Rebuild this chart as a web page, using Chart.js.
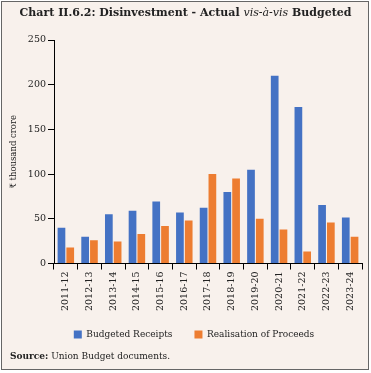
<!DOCTYPE html>
<html>
<head>
<meta charset="utf-8">
<script src="https://cdn.jsdelivr.net/npm/chart.js@4"></script>
<style>
body { margin: 0; background: #fff; }
#box { position: absolute; left: 1px; top: 1px; width: 366px; height: 367px; border: 1px solid #666; background: #f8f1ec; }
#title { position: absolute; left: 0; top: 6px; width: 371px; text-align: center; font-family: "DejaVu Serif", serif; font-weight: bold; font-size: 11px; color: #222; white-space: nowrap; }
#title i { font-weight: normal; }
#source { position: absolute; left: 10px; top: 351px; font-family: "DejaVu Serif", serif; font-size: 9px; color: #222; }
canvas { position: absolute; left: 0; top: 0; }
</style>
</head>
<body>
<div id="box"></div>
<canvas id="barChart" width="371" height="373"></canvas>
<div id="title">Chart II.6.2: Disinvestment - Actual <i>vis-à-vis</i> Budgeted</div>
<div id="source"><b>Source:</b> Union Budget documents.</div>
<script>
var years = ['2011-12', '2012-13', '2013-14', '2014-15', '2015-16', '2016-17', '2017-18', '2018-19', '2019-20', '2020-21', '2021-22', '2022-23', '2023-24'];
var budgeted = [40, 30, 55, 59, 69.5, 57, 62.5, 80, 105, 210, 175, 65.5, 51.5];
var realised = [18, 26, 24.5, 33, 42, 48, 100, 95, 50, 38, 13.5, 46, 30];
var yTicks = [0, 50, 100, 150, 200, 250];

var tickFont = { family: 'DejaVu Serif', size: 9.5 };

// nudge the legend to where it sits in the original
var legendShift = {
    id: 'legendShift',
    afterLayout: function(chart) {
        var lg = chart.legend;
        lg.left += 11; lg.right += 11;
        lg.top -= 5; lg.bottom -= 5;
    }
};

var ctx = document.getElementById('barChart').getContext('2d');
var myBarChart = new Chart(ctx, {
    type: 'bar',
    data: {
        labels: years,
        datasets: [
            {
                label: 'Budgeted Receipts',
                data: budgeted,
                backgroundColor: '#4472C4',
                categoryPercentage: 0.74,
                barPercentage: 0.88
            },
            {
                label: 'Realisation of Proceeds',
                data: realised,
                backgroundColor: '#ED7D31',
                categoryPercentage: 0.74,
                barPercentage: 0.88
            }
        ]
    },
    options: {
        responsive: false,
        animation: false,
        devicePixelRatio: 1,
        layout: { padding: { left: 4, right: 9, top: 40, bottom: 19 } },
        plugins: {
            tooltip: { enabled: false },
            legend: {
                position: 'bottom',
                labels: {
                    boxWidth: 8,
                    boxHeight: 8,
                    padding: 22,
                    color: '#222',
                    font: { family: 'DejaVu Serif', size: 9 }
                }
            }
        },
        scales: {
            x: {
                grid: { drawOnChartArea: false, drawTicks: true, tickLength: 6, color: '#000', offset: true },
                border: { color: '#000', width: 1 },
                ticks: { minRotation: 90, maxRotation: 90, autoSkip: false, padding: 2, color: '#222', font: tickFont }
            },
            y: {
                min: 0,
                max: 250,
                afterBuildTicks: function(scale) {
                    scale.ticks = yTicks.map(function(v) { return { value: v }; });
                },
                afterFit: function(scale) {
                    scale.width = 50;
                },
                grid: { drawOnChartArea: false, drawTicks: true, tickLength: 6, color: '#000' },
                border: { color: '#000', width: 1 },
                ticks: { padding: 2, color: '#222', font: tickFont },
                title: {
                    display: true,
                    text: '₹ thousand crore',
                    color: '#222',
                    padding: { top: 5, bottom: 0 },
                    font: { family: 'DejaVu Serif', size: 8.5 }
                }
            }
        }
    },
    plugins: [legendShift]
});
</script>
</body>
</html>
